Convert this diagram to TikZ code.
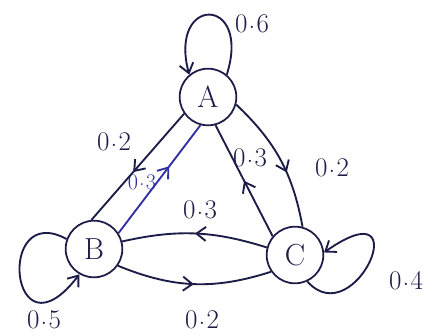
\documentclass[tikz,border=0pt]{standalone}
\usepackage{fontspec}
\usepackage{tikz}
\usetikzlibrary{arrows.meta, positioning, decorations.markings}
\definecolor{INK}{RGB}{28,28,72}
\definecolor{PEN}{RGB}{48,48,160}
\newcommand{\pr}[1]{0\kern1pt\raisebox{0.35ex}{.}\kern1pt#1}

\begin{document}
\begin{tikzpicture}[x=0.03cm, y=-0.03cm,
  state/.style={draw=INK, circle, line width=1.5pt, minimum size=1.7cm,
                inner sep=0pt, font=\fontsize{26}{28}\selectfont, text=INK},
  edge/.style={draw=INK, line width=1.6pt},
  tip/.style={-{Straight Barb[length=8pt, width=12pt, line width=1.6pt]}},
  mid/.style={decoration={markings, mark=at position #1 with
              {\arrow{Straight Barb[length=8pt, width=12pt, line width=1.6pt]}}},
              postaction={decorate}},
  prob/.style={font=\fontsize{23}{26}\selectfont, text=INK, inner sep=1pt}
]
\useasboundingbox (0,0) rectangle (435,336);

\node[state] (A) at (208,97)  {A};
\node[state] (B) at (94,249)  {B};
\node[state] (C) at (295,255) {C};

\node[prob] (pAA) at (252,24)  {\pr6};
\node[prob] (pAB) at (114,142) {\pr2};
\node[prob, text=PEN, font=\fontsize{19}{22}\selectfont] (pBA) at (142,182) {\pr3};
\node[prob] (pCA) at (250,158) {\pr3};
\node[prob] (pAC) at (332,168) {\pr2};
\node[prob] (pCB) at (200,210) {\pr3};
\node[prob] (pBC) at (202,320) {\pr2};
\node[prob] (pBB) at (44,320)  {\pr5};
\node[prob] (pCC) at (406,281) {\pr4};

\draw[edge, tip] (A.50) .. controls (252,-5) and (168,-5) .. (A.130);
\draw[edge, mid=0.55] (A.215) -- (B.95);
\draw[edge, draw=PEN, mid=0.62] (B.33) -- (A.255);
\draw[edge, mid=0.5] (C.140) -- (A.285);
\draw[edge, mid=0.6] (A.-15) to[bend left=18] (C.75);
\draw[edge, mid=0.5] (C.165) to[bend right=15] (B.15);
\draw[edge, mid=0.5] (B.-35) to[bend right=20] (C.-145);
\draw[edge, tip] (B.160) .. controls (-5,200) and (10,365) .. (B.240);
\draw[edge, tip] (C.-65) .. controls (355,335) and (420,185) .. (C.5);
\end{tikzpicture}
\end{document}
